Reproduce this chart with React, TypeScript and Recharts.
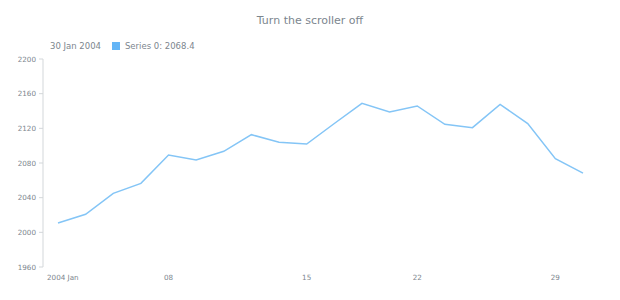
import { LineChart, Line, XAxis, YAxis } from "recharts";

// Trading days of January 2004 (no Jan 1 and Jan 19 holidays)
const days = [2, 5, 6, 7, 8, 9, 12, 13, 14, 15, 16, 20, 21, 22, 23, 26, 27, 28, 29, 30];
const series0 = [
  2010.8, 2020.8, 2045.0, 2056.5, 2089.2, 2083.5, 2093.5, 2112.7, 2103.9, 2101.9,
  2125.6, 2148.9, 2138.8, 2145.8, 2124.6, 2120.8, 2147.7, 2125.4, 2085.0, 2068.4,
];
const xTicks = [2, 8, 15, 22, 29];
const yTicks = [1960, 2000, 2040, 2080, 2120, 2160, 2200];

const data = days.map((d, i) => ({ day: d, value: series0[i] }));

const FONT = "'DejaVu Sans', Verdana, sans-serif";
const TEXT = "#7c868e";
const SWATCH = "#64b5f6";
const LINE = "#84c5f6";
const AXIS = "#d3d7da";

function DayTick(props: any) {
  const { x, y, payload, index } = props;
  const first = index === 0;
  const label = first ? "2004 Jan" : String(payload.value).padStart(2, "0");
  return (
    <text
      x={first ? x - 11 : x}
      y={y + 5}
      textAnchor={first ? "start" : "middle"}
      fontSize={7.2}
      fill={TEXT}
      fontFamily={FONT}
    >
      {label}
    </text>
  );
}

export default function App() {
  const last = data[data.length - 1];
  return (
    <div style={{ position: "fixed", left: 0, top: 0, width: 620, height: 300, background: "#fff", fontFamily: FONT }}>
      <div style={{ position: "absolute", left: 0, width: 620, top: 14, textAlign: "center", fontSize: 11, color: TEXT }}>
        Turn the scroller off
      </div>
      <div style={{ position: "absolute", left: 50, top: 41, fontSize: 8.5, color: TEXT, display: "flex", alignItems: "center", whiteSpace: "nowrap" }}>
        <span>{last.day} Jan 2004</span>
        <span style={{ display: "inline-block", width: 8, height: 8, background: SWATCH, marginLeft: 11, marginRight: 5 }} />
        <span>Series 0: {last.value.toFixed(1)}</span>
      </div>
      <LineChart width={620} height={300} data={data} margin={{ top: 59, right: 22, bottom: 0, left: 0 }}>
        <XAxis
          dataKey="day"
          ticks={xTicks}
          interval={0}
          axisLine={false}
          tickLine={false}
          padding={{ left: 15, right: 15 }}
          tick={<DayTick />}
          height={33}
        />
        <YAxis
          domain={[1960, 2200]}
          ticks={yTicks}
          width={43}
          axisLine={{ stroke: AXIS }}
          tickLine={{ stroke: AXIS }}
          tickSize={4}
          tickMargin={3}
          tick={{ fontSize: 7.2, fill: TEXT, fontFamily: FONT }}
        />
        <Line
          type="linear"
          dataKey="value"
          stroke={LINE}
          strokeWidth={1.5}
          dot={false}
          isAnimationActive={false}
        />
      </LineChart>
    </div>
  );
}
